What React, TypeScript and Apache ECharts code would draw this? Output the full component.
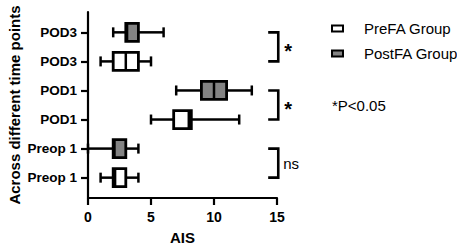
import React, { useEffect, useRef } from "react";
import * as echarts from "echarts";

// Category rows from bottom (index 0) to top (index 5)
const categories = ["Preop 1", "Preop 1", "POD1", "POD1", "POD3", "POD3"];
const rowIndices = [0, 1, 2, 3, 4, 5];
// Each item: [row index, min, Q1, median, Q3, max]
const preFA = [
  [0, 1, 2, 2.15, 3, 4],
  [2, 5, 6.8, 8, 8.2, 12],
  [4, 1, 2, 3, 4, 5],
];
const postFA = [
  [1, 0, 2, 2.1, 3, 4],
  [3, 7, 9, 10, 11, 13],
  [5, 2, 3, 3.1, 4, 6],
];
const seriesNames = ["PreFA Group", "PostFA Group"];
// significance brackets: [lower row, upper row]
const bracketRows = [
  [4, 5],
  [2, 3],
  [0, 1],
];
const bracketLabels = ["*", "*", "ns"];
const note = "*P<0.05";

const FONT = "'Liberation Sans', Arial, Helvetica, sans-serif";
const GRAY = "#838383";

const renderBox = (fill: string) => (params: any, api: any) => {
  const row = api.value(0);
  const vals = [1, 2, 3, 4, 5].map((i) => api.value(i));
  const pts = vals.map((v) => api.coord([v, row]));
  const cy = pts[0][1];
  const h = 18;
  const cap = 5;
  const lw = 2.5;
  const line = (x1: number, y1: number, x2: number, y2: number) => ({
    type: "line",
    shape: { x1, y1, x2, y2 },
    style: { stroke: "#000", lineWidth: lw },
  });
  return {
    type: "group",
    children: [
      line(pts[0][0], cy, pts[1][0], cy),
      line(pts[3][0], cy, pts[4][0], cy),
      line(pts[0][0], cy - cap, pts[0][0], cy + cap),
      line(pts[4][0], cy - cap, pts[4][0], cy + cap),
      {
        type: "rect",
        shape: { x: pts[1][0], y: cy - h / 2, width: pts[3][0] - pts[1][0], height: h },
        style: { fill, stroke: "#000", lineWidth: 2.8 },
      },
      line(pts[2][0], cy - h / 2, pts[2][0], cy + h / 2),
    ],
  };
};

const renderBracket = (params: any, api: any) => {
  const pb = api.coord([14.3, api.value(0)]);
  const pt = api.coord([15.1, api.value(1)]);
  const xl = pb[0];
  const yb = pb[1];
  const xr = pt[0];
  const yt = pt[1];
  const label = bracketLabels[params.dataIndex];
  const isStar = label === "*";
  return {
    type: "group",
    children: [
      {
        type: "polyline",
        shape: { points: [[xl, yt], [xr, yt], [xr, yb], [xl, yb]] },
        style: { stroke: "#000", lineWidth: 2.6, fill: "none" },
      },
      {
        type: "text",
        x: xr + (isStar ? 6 : 5),
        y: (yt + yb) / 2 + (isStar ? 4 : 0),
        style: {
          text: label,
          fontSize: isStar ? 20 : 15,
          fontWeight: isStar ? "bold" : "normal",
          fontFamily: FONT,
          fill: "#000",
          verticalAlign: "middle",
          align: "left",
        },
      },
    ],
  };
};

export default function App() {
  const ref = useRef<HTMLDivElement>(null);
  useEffect(() => {
    if (!ref.current) return;
    const chart = echarts.init(ref.current, undefined, { renderer: "svg" });
    chart.setOption({
      animation: false,
      backgroundColor: "#fff",
      grid: { left: 88, top: 12, width: 189, height: 189 },
      legend: {
        orient: "vertical",
        left: 326,
        top: 16,
        itemWidth: 11,
        itemHeight: 6,
        itemGap: 10,
        textStyle: { fontSize: 15, fontFamily: FONT, color: "#000", padding: [0, 0, 0, 16] },
        data: [
          { name: seriesNames[0], icon: "rect", itemStyle: { color: "#fff", borderColor: "#000", borderWidth: 2 } },
          { name: seriesNames[1], icon: "rect", itemStyle: { color: GRAY, borderColor: "#000", borderWidth: 2 } },
        ],
      },
      graphic: [
        {
          type: "text",
          x: 332,
          y: 105,
          style: { text: note, fontSize: 15, fontFamily: FONT, fill: "#000", verticalAlign: "middle", align: "left" },
        },
      ],
      xAxis: {
        type: "value",
        min: 0,
        max: 15,
        interval: 5,
        name: "AIS",
        nameLocation: "middle",
        nameGap: 32,
        nameTextStyle: { fontSize: 15, fontWeight: "bold", fontFamily: FONT, color: "#000" },
        axisLine: { show: true, onZero: false, lineStyle: { color: "#000", width: 2.2 } },
        axisTick: { show: true, length: 7, lineStyle: { color: "#000", width: 2.2 } },
        axisLabel: { fontSize: 14, fontWeight: "bold", fontFamily: FONT, color: "#000", margin: 12 },
        splitLine: { show: false },
      },
      yAxis: {
        type: "value",
        min: -0.7,
        max: 5.7,
        name: "Across different time points",
        nameLocation: "middle",
        nameGap: 66,
        nameTextStyle: { fontSize: 15, fontWeight: "bold", fontFamily: FONT, color: "#000" },
        axisLine: { show: true, onZero: false, lineStyle: { color: "#000", width: 2.2 } },
        axisTick: { show: true, length: 7, customValues: rowIndices, lineStyle: { color: "#000", width: 2.2 } },
        axisLabel: {
          customValues: rowIndices,
          formatter: (v: number) => categories[Math.round(v)] ?? "",
          fontSize: 13.5,
          fontWeight: "bold",
          fontFamily: FONT,
          color: "#000",
          margin: 11,
        },
        splitLine: { show: false },
      },
      series: [
        {
          name: seriesNames[0],
          type: "custom",
          coordinateSystem: "cartesian2d",
          encode: { x: [1, 2, 3, 4, 5], y: 0 },
          itemStyle: { color: "#fff", borderColor: "#000" },
          renderItem: renderBox("#fff"),
          data: preFA,
        },
        {
          name: seriesNames[1],
          type: "custom",
          coordinateSystem: "cartesian2d",
          encode: { x: [1, 2, 3, 4, 5], y: 0 },
          itemStyle: { color: GRAY, borderColor: "#000" },
          renderItem: renderBox(GRAY),
          data: postFA,
        },
        {
          name: "brackets",
          type: "custom",
          coordinateSystem: "cartesian2d",
          clip: false,
          encode: { y: [0, 1] },
          renderItem: renderBracket,
          data: bracketRows,
        },
      ],
    });

    return () => chart.dispose();
  }, []);
  return (
    <div
      ref={ref}
      style={{ position: "fixed", left: 0, top: 0, width: 457, height: 250, background: "#fff" }}
    />
  );
}
